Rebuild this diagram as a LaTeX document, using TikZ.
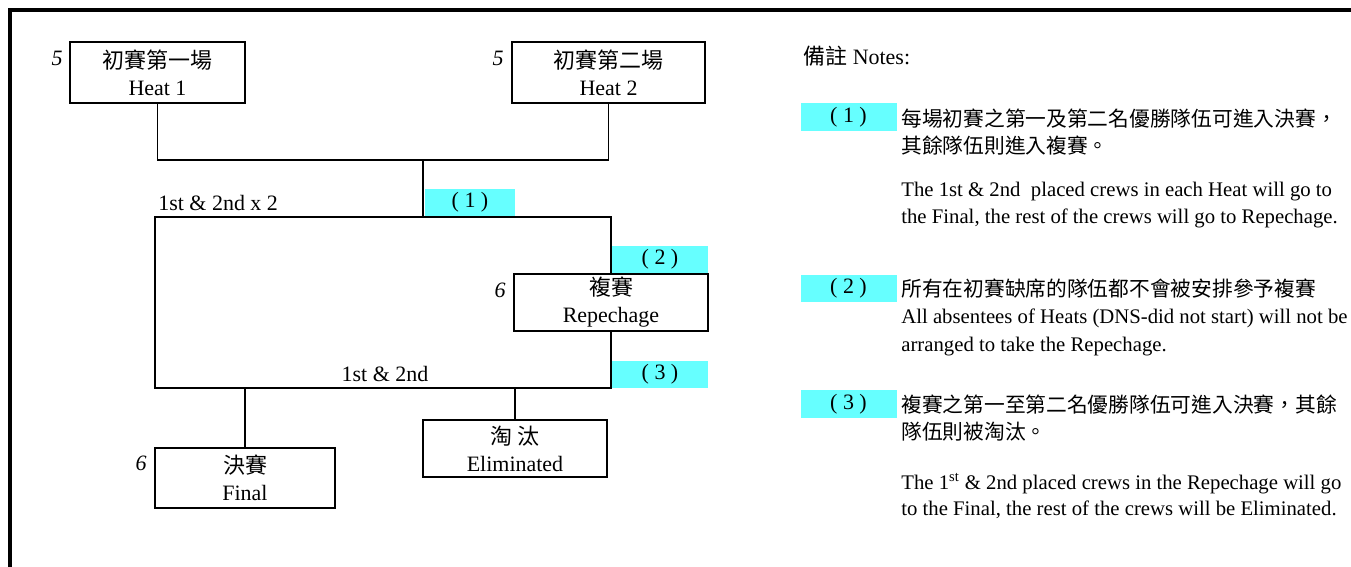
\documentclass[tikz,border=0pt]{standalone}
\usepackage{fontspec}
\setmainfont{Liberation Serif}
\newfontfamily\cjk{Noto Sans CJK TC}
\definecolor{tagcyan}{RGB}{102,255,255}
\begin{document}
\begin{tikzpicture}[x=0.02cm,y=-0.02cm,
    box/.style={draw,line width=1.1pt,align=center,inner sep=0pt,font=\fontsize{12.5}{15.4}\selectfont},
    num/.style={font=\fontsize{12.5}{15}\selectfont\itshape,inner sep=0pt},
    lbl/.style={font=\fontsize{12.5}{15}\selectfont,inner sep=0pt,text height=0.8em,text depth=0.1em},
    note/.style={anchor=west,font=\fontsize{11.8}{15}\selectfont,inner sep=0pt,text height=0.8em,text depth=0.1em},
    tag/.style={fill=tagcyan,inner sep=0pt,minimum width=1.92cm,minimum height=0.56cm,font=\fontsize{12.5}{15}\selectfont},
    link/.style={line width=1.1pt}]
  \useasboundingbox (0,0) rectangle (1351,567);
  \draw[line width=2.3pt] (10,567) -- (10,10) -- (1351,10);
  \node[box,minimum width=3.5cm,minimum height=1.22cm] (heatA) at (157.5,72.5) {{\cjk 初賽第一場}\\Heat 1};
  \node[box,minimum width=3.86cm,minimum height=1.22cm] (heatB) at (608.5,72.5) {{\cjk 初賽第二場}\\Heat 2};
  \node[box,minimum width=3.88cm,minimum height=1.14cm] (rep) at (611,302.5) {{\cjk 複賽}\\Repechage};
  \node[box,minimum width=3.6cm,minimum height=1.2cm] (final) at (245,478) {{\cjk 決賽}\\Final};
  \node[box,minimum width=3.68cm,minimum height=1.14cm] (elim) at (515,448.5) {{\cjk 淘 汰}\\Eliminated};
  \node[num] (nA) at (57,58) {5};
  \node[num] (nB) at (498,58) {5};
  \node[num] (nR) at (500,290) {6};
  \node[num] (nF) at (141,463) {6};
  \coordinate (split) at (423,160);
  \coordinate (tl) at (155,217);
  \coordinate (bl) at (155,388);
  \draw[link] (heatA.south) |- (split) -| (heatB.south);
  \draw[link] (split) -- (split |- tl);
  \draw[link] (rep.north) |- (tl) -- (bl) -| (rep.south);
  \draw[link] (final.north) -- (final.north |- bl);
  \draw[link] (elim.north) -- (elim.north |- bl);
  \node[tag,minimum width=1.8cm] (t1) at (470,202.5) {( 1 )};
  \node[tag] (t2) at (660,259.5) {( 2 )};
  \node[tag] (t3) at (660,374.5) {( 3 )};
  \node[lbl,anchor=west] (adv) at (158,204) {1st \& 2nd x 2};
  \node[lbl] (adv2) at (385,375) {1st \& 2nd};
  \node[lbl,anchor=west] (hdr) at (803,58) {{\cjk 備註} Notes:};
  \node[tag] (n1) at (848.5,117.5) {( 1 )};
  \node[tag] (n2) at (848.5,288.5) {( 2 )};
  \node[tag] (n3) at (848.5,404) {( 3 )};
  \node[note] (n1a) at (901,120) {\cjk 每場初賽之第一及第二名優勝隊伍可進入決賽，};
  \node[note] (n1b) at (901,147) {\cjk 其餘隊伍則進入複賽。};
  \node[note] (n1c) at (901,190) {The 1st \& 2nd\ \ placed crews in each Heat will go to};
  \node[note] (n1d) at (901,217) {the Final, the rest of the crews will go to Repechage.};
  \node[note] (n2a) at (901,290) {\cjk 所有在初賽缺席的隊伍都不會被安排參予複賽};
  \node[note] (n2b) at (901,317) {All absentees of Heats (DNS-did not start) will not be};
  \node[note] (n2c) at (901,345) {arranged to take the Repechage.};
  \node[note] (n3a) at (901,406) {\cjk 複賽之第一至第二名優勝隊伍可進入決賽，其餘};
  \node[note] (n3b) at (901,433) {\cjk 隊伍則被淘汰。};
  \node[note] (n3c) at (901,483) {The 1\textsuperscript{st} \& 2nd placed crews in the Repechage will go};
  \node[note] (n3d) at (901,509) {to the Final, the rest of the crews will be Eliminated.};
\end{tikzpicture}
\end{document}
